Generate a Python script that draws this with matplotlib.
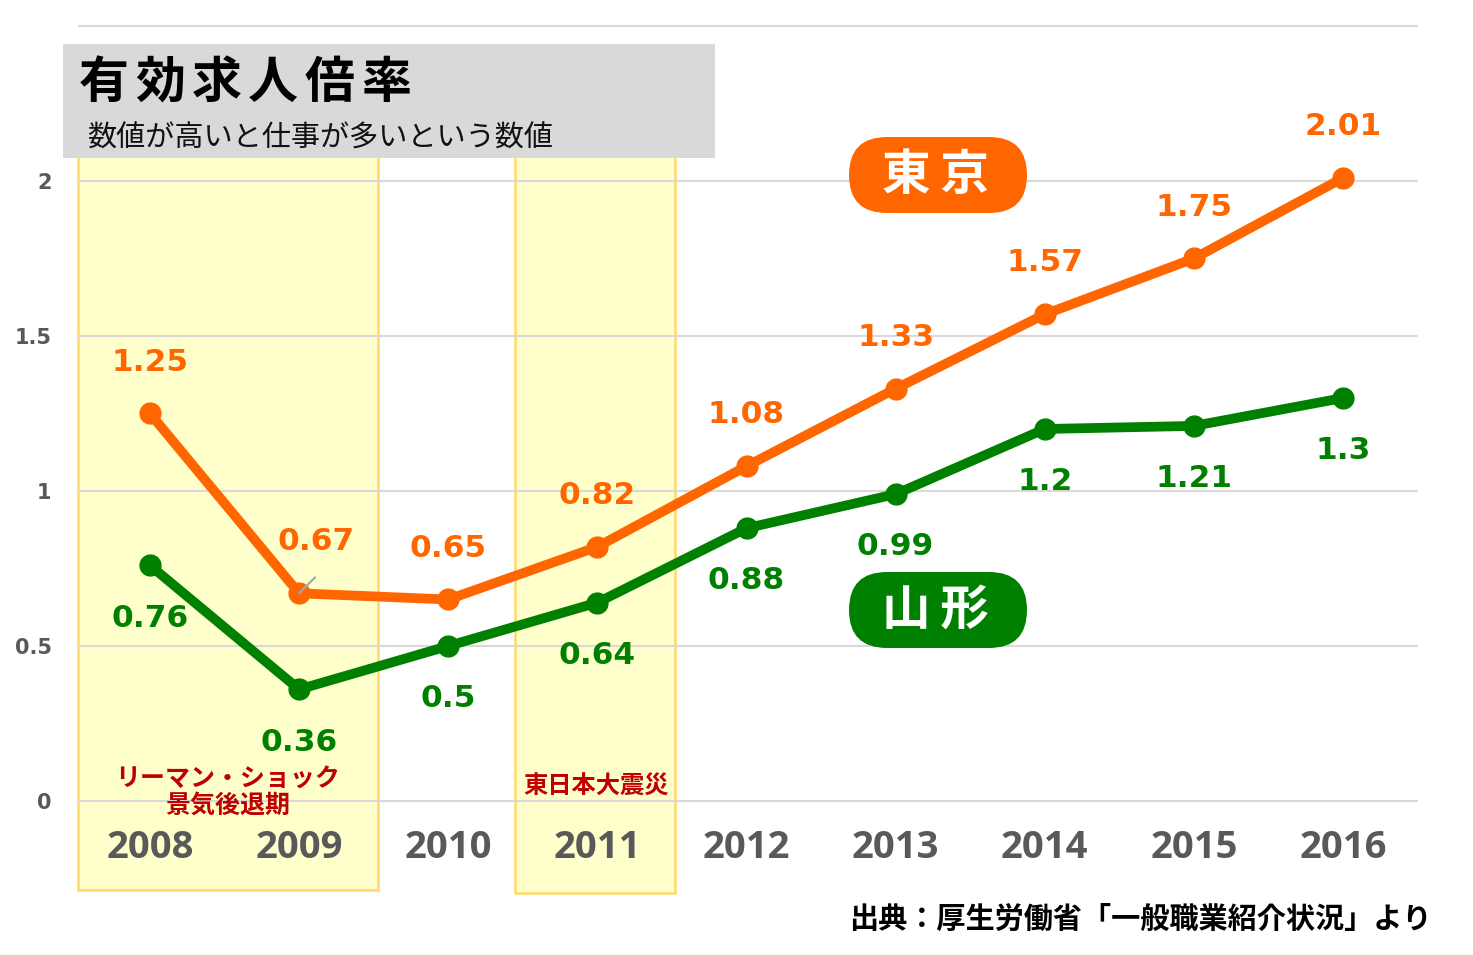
import matplotlib
matplotlib.use('Agg')
import matplotlib.pyplot as plt
from matplotlib.patches import Rectangle, FancyBboxPatch

# ---------------- data ----------------
years = ['2008', '2009', '2010', '2011', '2012', '2013', '2014', '2015', '2016']
tokyo = [1.25, 0.67, 0.65, 0.82, 1.08, 1.33, 1.57, 1.75, 2.01]
yamagata = [0.76, 0.36, 0.5, 0.64, 0.88, 0.99, 1.2, 1.21, 1.3]
tokyo_labels = ['1.25', '0.67', '0.65', '0.82', '1.08', '1.33', '1.57', '1.75', '2.01']
yamagata_labels = ['0.76', '0.36', '0.5', '0.64', '0.88', '0.99', '1.2', '1.21', '1.3']
yticks = [0, 0.5, 1, 1.5, 2]
ytick_labels = ['0', '0.5', '1', '1.5', '2']
title = '有効求人倍率'
subtitle = '数値が高いと仕事が多いという数値'
series_names = ['東京', '山形']
period_labels = ['リーマン・ショック\n景気後退期', '東日本大震災']
source = '出典：厚生労働省「一般職業紹介状況」より'

# ---------------- style ----------------
ORANGE = '#ff6600'
GREEN = '#008000'
GREY_TXT = '#595959'
CJK = ['Noto Sans CJK JP', 'DejaVu Sans']
plt.rcParams['font.family'] = CJK

W, H = 1473, 955
fig = plt.figure(figsize=(W / 100, H / 100), dpi=100)

# main axes: pixel x 60..1430, y 20..905
ax = fig.add_axes([60 / W, 1 - 905 / H, (1430 - 60) / W, (905 - 20) / H])
px2x = lambda p: (p - 150) / 149.125
px2y = lambda p: (801 - p) / 310.0
ax.set_xlim(px2x(60), px2x(1430))
ax.set_ylim(px2y(905), px2y(20))
for s in ax.spines.values():
    s.set_visible(False)
ax.set_xticks([])
ax.set_yticks(yticks)
ax.set_yticklabels(ytick_labels, fontsize=15, fontweight='bold', color=GREY_TXT,
                   family=['DejaVu Sans'])
ax.tick_params(axis='y', length=0, pad=6)
ax.patch.set_visible(False)

x = list(range(len(years)))

# highlighted periods
ax.add_patch(Rectangle((px2x(78), px2y(890)), px2x(378) - px2x(78), 2.2 - px2y(890),
                       fc='#ffffcc', ec='#ffd966', lw=1.8, zorder=0.5, clip_on=False))
ax.add_patch(Rectangle((px2x(515), px2y(893)), px2x(675) - px2x(515), 2.2 - px2y(893),
                       fc='#ffffcc', ec='#ffd966', lw=1.8, zorder=0.5, clip_on=False))

# gridlines
ax.hlines(yticks + [2.5], px2x(78), px2x(1418), color='#d9d9d9', lw=1.5, zorder=1)

# lines
ax.plot(x, tokyo, color=ORANGE, lw=7, marker='o', ms=15, zorder=3, solid_capstyle='round')
ax.plot(x, yamagata, color=GREEN, lw=7, marker='o', ms=15, zorder=3, solid_capstyle='round')

lab_font = dict(fontsize=22.5, fontweight='bold', family=['DejaVu Sans'], ha='center', va='center')
for i, (v, lab) in enumerate(zip(tokyo, tokyo_labels)):
    dx = 12 if i == 1 else 0
    ax.annotate(lab, (i, v), xytext=(dx, 37), textcoords='offset points', color=ORANGE,
                zorder=4, **lab_font)
for i, (v, lab) in enumerate(zip(yamagata, yamagata_labels)):
    ax.annotate(lab, (i, v), xytext=(0, -38), textcoords='offset points', color=GREEN,
                zorder=4, **lab_font)
# leader line for 2009 Tokyo label
ax.annotate('', xy=(1, tokyo[1]), xytext=(11.5, 11.5), textcoords='offset points',
            arrowprops=dict(arrowstyle='-', color='#a6a6a6', lw=1.5, shrinkA=0, shrinkB=0),
            zorder=5)

# x labels
for i, yr in enumerate(years):
    ax.text(i, px2y(848), yr, ha='center', va='center', fontsize=27.5, fontweight='bold',
            color=GREY_TXT, family=['Open Sans', 'DejaVu Sans'], zorder=4)

# period labels
ax.text(px2x(228), px2y(793), period_labels[0], ha='center', va='center', fontsize=18,
        fontweight='bold', color='#c00000', linespacing=1.1, zorder=4)
ax.text(px2x(596), px2y(787), period_labels[1], ha='center', va='center', fontsize=17.5,
        fontweight='bold', color='#c00000', zorder=4)

# ---------------- overlay (pixel coords) ----------------
ov = fig.add_axes([0, 0, 1, 1], zorder=10)
ov.set_xlim(0, W)
ov.set_ylim(H, 0)
ov.axis('off')

ov.add_patch(Rectangle((63, 44), 652, 114, fc='#d9d9d9', ec='none'))
for k, ch in enumerate(title):
    ov.text(104 + 56.4 * k, 83, ch, ha='center', va='center', fontsize=36,
            fontweight='bold', color='black')
ov.text(87, 139, subtitle, ha='left', va='center', fontsize=21, color='#111111')

for name, col, yc in [(series_names[0], ORANGE, 175), (series_names[1], GREEN, 610)]:
    ov.add_patch(FancyBboxPatch((849, yc - 38), 178, 76,
                                boxstyle='round,pad=0,rounding_size=38', fc=col, ec='none'))
    ov.text(936, yc, name[0] + '\u2009' + name[1], ha='center', va='center', fontsize=35,
            fontweight='bold', color='white', family=['Noto Sans CJK JP', 'DejaVu Sans'])

ov.text(1432, 919, source, ha='right', va='center', fontsize=21, fontweight='bold',
        color='black')

fig.savefig('out.png', dpi=100)
